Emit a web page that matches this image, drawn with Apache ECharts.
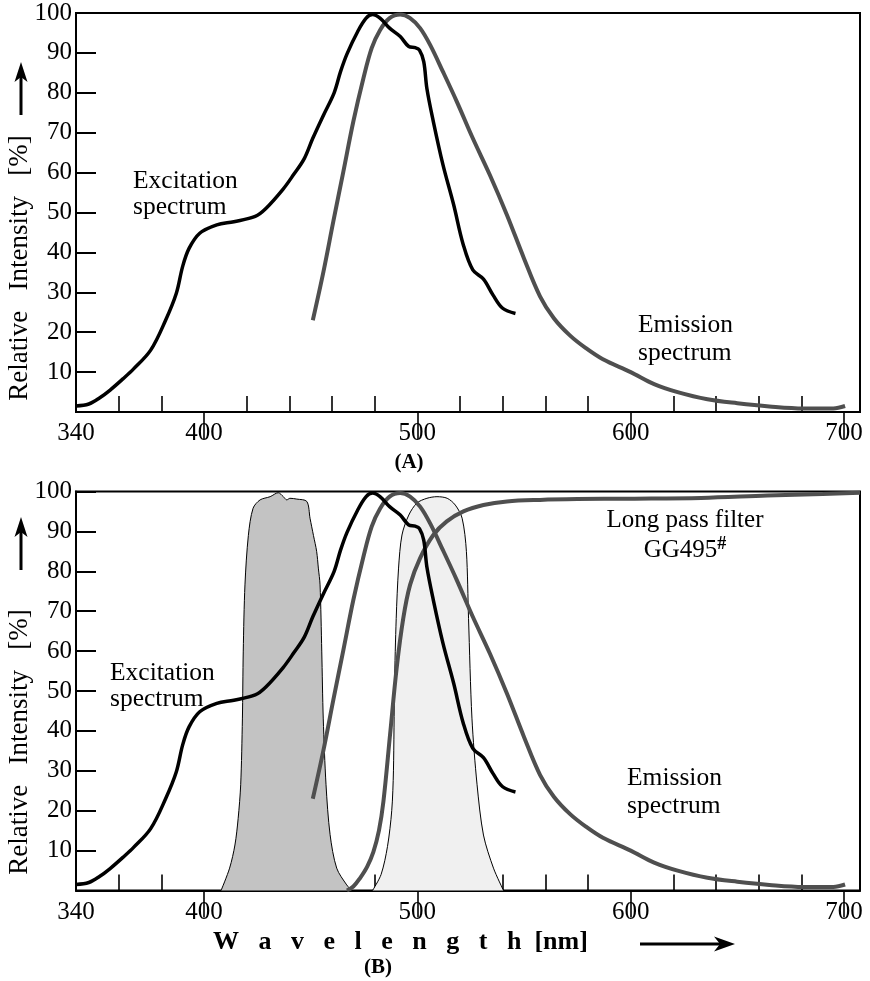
<!DOCTYPE html>
<html>
<head>
<meta charset="utf-8">
<script src="https://cdn.jsdelivr.net/npm/echarts@6/dist/echarts.min.js"></script>
<style>
html,body{margin:0;padding:0;background:#fff;}
#chart{width:870px;height:981px;}
</style>
</head>
<body>
<div id="chart"></div>
<script>
// ---------- data ----------
const xLabels = [340, 400, 500, 600, 700];
const minorTicks = [360, 380, 420, 440, 460, 480, 520, 540, 560, 580, 620, 640, 660, 680];
const majorTicks = [400, 500, 600, 700];

const excitation = [
  [340,1.5],[346,2],[351,3.5],[356,5.5],[362,8.3],[367,10.8],[375,15.5],[382,23],[387,29.7],
  [390,36.5],[393,41],[398,44.8],[406,46.9],[414,47.7],[424,49],[429,51],[437,55.8],[442,59.5],
  [447,63.5],[451,68.6],[456,74.4],[461,80],[464,85.3],[467,89.7],[472,95.3],[476,98.7],[479,99.6],
  [482.5,98.7],[487,96.2],[492,94.1],[496,91.6],[499,91.3],[501,90.7],[503,87.8],[504.5,81],
  [507.5,72.8],[512,62],[517,52],[521.5,42],[526,35.6],[531,33.3],[535.5,29.3],[540,26],[546,24.7]
];
const emission = [
  [451,23],[456,35.2],[460.6,47.7],[465.3,60.2],[470,72.8],[474.7,83.6],[478.6,91.2],[482.5,95.7],
  [487,98.7],[492,99.6],[496.6,98.7],[501.3,96.2],[506,92],[512,85.3],[518.5,77.8],[526,68.6],
  [534,59.4],[542,49.4],[550,38.5],[557.5,29],[564,23.5],[571.5,19.2],[579,16],[587,13.2],[600,10],
  [611,7],[622,5],[636,3.2],[650,2.2],[665,1.4],[681,0.9],[695,0.9],[700.5,1.5]
];
const filter440 = [
  [408,0],[412,5.6],[414.5,11.4],[416,18],[417.2,26.5],[418,43],[418.4,60],[419.2,76.6],[420.8,89],
  [423,95.8],[426.3,97.9],[431,98.7],[434.8,99.7],[437.2,98.7],[438.8,97.9],[440.3,98.3],[443.5,98.1],
  [448.2,97.5],[449.7,93.3],[451.3,89],[452.8,85],[453.6,80.8],[454.4,76.6],[455.2,60],[455.9,43],
  [457.2,26.5],[459.1,14],[462.2,5.6],[466.9,1.4],[469.3,0]
];
const filter505 = [
  [479,0],[483,4],[486,11],[488,20],[488.8,30],[489.3,51.5],[490.1,68.2],[491.2,80.8],[492.8,89.1],
  [496,94.1],[499.8,97.1],[504.5,98.3],[509.2,98.7],[514,98.3],[517.8,96.6],[521,93.3],[523,85],
  [524,68.2],[525.6,43.2],[528,26.5],[531,13.9],[535.7,5.6],[540.4,0]
];
const longPass = [
  [467,0],[470,1],[473,3],[476.5,6],[479.4,9.7],[482,15],[484.1,22.3],[487.2,39],[490.3,55.7],
  [493.4,68.2],[496.6,76.6],[501.3,83.3],[507.5,89.1],[513.8,92.5],[521.6,95],[531,96.6],[542,97.5],
  [557.5,97.9],[575,98.1],[600,98.2],[633,98.4],[664,99],[690,99.4],[707.5,99.7]
];

// ---------- chart ----------
const FONT = 'Liberation Serif';
const X_MIN = 340, X_MAX = 707.5;
const chart = echarts.init(document.getElementById('chart'), null, {renderer: 'canvas'});

function xAxesFor(g) {
  return [
    {
      type: 'value', gridIndex: g, min: X_MIN, max: X_MAX,
      axisLine: {show: true, onZero: false, lineStyle: {color: '#000', width: 2}},
      axisTick: {show: true, inside: true, length: 16, customValues: minorTicks, lineStyle: {color: '#000', width: 1.6}},
      axisLabel: {show: true, customValues: xLabels, color: '#000', fontFamily: FONT, fontSize: 25, margin: 9},
      splitLine: {show: false}
    },
    {
      type: 'value', gridIndex: g, min: X_MIN, max: X_MAX,
      axisLine: {show: false},
      axisTick: {show: true, inside: true, length: 27, customValues: majorTicks, lineStyle: {color: '#000', width: 1.6}},
      axisLabel: {show: false},
      splitLine: {show: false}
    }
  ];
}
function yAxisFor(g) {
  return {
    type: 'value', gridIndex: g, min: 0, max: 100, interval: 10,
    axisLine: {show: true, onZero: false, lineStyle: {color: '#000', width: 2}},
    axisTick: {show: true, inside: true, length: 20, lineStyle: {color: '#000', width: 2}},
    axisLabel: {color: '#000', fontFamily: FONT, fontSize: 25, margin: 4,
      formatter: v => (v === 0 ? '' : String(v))},
    splitLine: {show: false}
  };
}
function lineS(data, xi, yi, color, width, z) {
  return {type: 'line', data, xAxisIndex: xi, yAxisIndex: yi, showSymbol: false, smooth: 0.35,
    lineStyle: {color, width}, z, silent: true, animation: false};
}
function areaS(data, xi, yi, fill, z) {
  return {type: 'line', data, xAxisIndex: xi, yAxisIndex: yi, showSymbol: false, smooth: 0.3,
    lineStyle: {color: '#000', width: 1}, areaStyle: {color: fill, opacity: 1}, z, silent: true, animation: false};
}

const EM = '#4f4f4f';
const txt = (x, y, text, extra) => ({type: 'text', x, y, silent: true, style: Object.assign({
  text, fill: '#000', font: '25.5px "' + FONT + '"', textAlign: 'left', textVerticalAlign: 'middle'}, extra || {})});

function arrowUp(x, y0, y1) {
  return [
    {type: 'line', silent: true, shape: {x1: x, y1: y0, x2: x, y2: y1 + 14}, style: {stroke: '#000', lineWidth: 3}},
    {type: 'polygon', silent: true, shape: {points: [[x, y1], [x - 6.5, y1 + 20], [x, y1 + 15], [x + 6.5, y1 + 20]]}, style: {fill: '#000'}}
  ];
}
function arrowRight(y, x0, x1) {
  return [
    {type: 'line', silent: true, shape: {x1: x0, y1: y, x2: x1 - 14, y2: y}, style: {stroke: '#000', lineWidth: 3}},
    {type: 'polygon', silent: true, shape: {points: [[x1, y], [x1 - 21, y - 7.5], [x1 - 15, y], [x1 - 21, y + 7.5]]}, style: {fill: '#000'}}
  ];
}
const richSup = (size, bold) => ({
  rich: {
    m: {fontFamily: FONT, fontSize: size, fontWeight: bold ? 'bold' : 'normal', lineHeight: size + 5, fill: '#000'},
    s: {fontFamily: FONT, fontSize: Math.round(size * 0.7), fontWeight: 'bold', verticalAlign: 'top', lineHeight: size + 5, fill: '#000'}
  }
});

const option = {
  animation: false,
  backgroundColor: '#fff',
  grid: [
    {left: 76, top: 13, width: 784, height: 399, show: true, borderColor: '#000', borderWidth: 2},
    {left: 76, top: 491.5, width: 784, height: 399, show: true, borderColor: '#000', borderWidth: 2}
  ],
  xAxis: [].concat(xAxesFor(0), xAxesFor(1)),
  yAxis: [yAxisFor(0), yAxisFor(1)],
  series: [
    lineS(excitation, 0, 0, '#000', 3.5, 5),
    lineS(emission, 0, 0, EM, 4, 4),
    areaS(filter440, 2, 1, '#c3c3c3', 1),
    areaS(filter505, 2, 1, '#f0f0f0', 1),
    lineS(excitation, 2, 1, '#000', 3.5, 5),
    lineS(emission, 2, 1, EM, 4, 4),
    lineS(longPass, 2, 1, EM, 4, 4)
  ],
  graphic: {elements: [].concat(
    [
      // y axis names
      {type: 'text', x: 20, y: 268, rotation: Math.PI / 2, silent: true,
        style: {text: 'Relative   Intensity   [%]', fill: '#000', font: '27px "' + FONT + '"', textAlign: 'center', textVerticalAlign: 'middle'}},
      {type: 'text', x: 20, y: 742, rotation: Math.PI / 2, silent: true,
        style: {text: 'Relative   Intensity   [%]', fill: '#000', font: '27px "' + FONT + '"', textAlign: 'center', textVerticalAlign: 'middle'}},
      // panel A annotations
      txt(133, 194, 'Excitation\nspectrum', {lineHeight: 26}),
      txt(638, 339, 'Emission\nspectrum', {lineHeight: 28}),
      txt(409, 463, '(A)', {font: 'bold 21px "' + FONT + '"', textAlign: 'center'}),
      // panel B annotations
      txt(110, 686, 'Excitation\nspectrum', {lineHeight: 26}),
      txt(627, 792, 'Emission\nspectrum', {lineHeight: 28}),
      {type: 'text', x: 685, y: 535, silent: true, style: Object.assign({
        text: '{m|Long pass filter}\n{m|GG495}{s|#}', textAlign: 'center', textVerticalAlign: 'middle'}, richSup(25, false))},
      {type: 'text', x: 255, y: 857, silent: true, style: Object.assign({
        text: '{m|440/40}{s|#}', textAlign: 'left', textVerticalAlign: 'middle'}, richSup(21, true))},
      {type: 'text', x: 400, y: 853, silent: true, style: Object.assign({
        text: '{m|505/40}{s|#}', textAlign: 'left', textVerticalAlign: 'middle'}, richSup(21, true))},
      txt(213, 942, 'W   a   v   e   l   e   n   g   t   h  [nm]', {font: 'bold 26px "' + FONT + '"'}),
      txt(378, 968, '(B)', {font: 'bold 21px "' + FONT + '"', textAlign: 'center'})
    ],
    arrowUp(21, 115, 62),
    arrowUp(21, 570, 517),
    arrowRight(944, 640, 735)
  )}
};
chart.setOption(option);
</script>
</body>
</html>
